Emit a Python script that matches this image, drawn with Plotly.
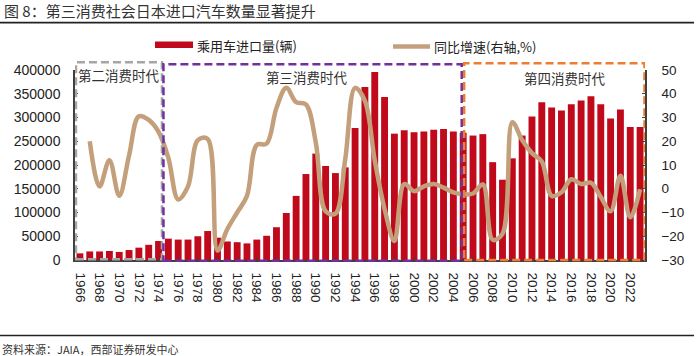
import plotly.graph_objects as go

years = list(range(1966, 2024))
imports = [14000, 18000, 18000, 19000, 17000, 21000, 26000, 32000, 40000,
           45000, 43000, 43000, 50000, 61000, 47000, 39000, 37500, 35000, 43000,
           51000, 69000, 99000, 135000, 181000, 224000, 198000, 183000, 195000, 278000,
           364000, 396000, 343000, 266000, 273000, 269000, 270500, 274000, 276000, 270500,
           268000, 262000, 265000, 206000, 169000, 214000, 262000, 302000, 332000, 321000,
           315000, 328000, 336000, 345000, 328000, 298000, 317000, 280000, 280000]
growth = [None,
          20, 1, 12, -3, 14, 30.5, 29, 24,
          13, -4.5, 1, 20.5, 21, -26, -17, -10, -3, 18.5,
          19, 34, 42.5, 36.5, 35.5, 19.5, -9.5, -10.5, 12.5, 42.5,
          37, 12, -8.5, -22, 2, -1, 1, 2, 0.5, -1.5,
          -2.3, -2, 1.8, -21.5, -19, 28, 20.5, 15, 11.5, -3,
          -1.5, 4, 2, 2.5, -3.5, -9.5, 5.5, -12, -0.2]
tick_years = list(range(1966, 2024, 2))
era_labels = ["第二消费时代", "第三消费时代", "第四消费时代"]
bar_name = "乘用车进口量(辆)"
line_name = "同比增速(右轴,%)"

W, H = 700, 356
L, R, T, B = 75, 55, 70, 96
PW, PH = W - L - R, H - T - B

def px(x):
    return (x - L) / PW

def py(y):
    return (H - B - y) / PH

BAR_C = "#C00A1C"
LINE_C = "#C3A07B"
FONT = "Arial, 'Liberation Sans', 'Noto Sans CJK SC', sans-serif"
CJK = "'Noto Sans CJK SC', sans-serif"

fig = go.Figure()
fig.add_trace(go.Bar(x=years, y=imports, name=bar_name, marker_color=BAR_C,
                     marker_line_width=0, yaxis="y"))
fig.add_trace(go.Scatter(x=years, y=growth, name=line_name, mode="lines",
                         line=dict(color=LINE_C, width=4.5, shape="spline", smoothing=1),
                         yaxis="y2", connectgaps=False))

fig.update_layout(
    width=W, height=H,
    margin=dict(l=L, r=R, t=T, b=B),
    paper_bgcolor="white", plot_bgcolor="white",
    showlegend=False,
    bargap=0.3,
    font=dict(family=FONT, size=14, color="#222"),
    xaxis=dict(range=[1965.5, 2023.5], tickmode="array", tickvals=tick_years,
               ticktext=[str(y) for y in tick_years], tickangle=90,
               tickfont=dict(size=13.5, color="#222"), showgrid=False,
               showline=True, linecolor="#404040", linewidth=1.5,
               ticks="inside", ticklen=3, tickcolor="#404040",
               ticklabelstandoff=8, zeroline=False),
    yaxis=dict(range=[0, 400000], dtick=50000, showgrid=False, zeroline=False,
               showline=True, linecolor="#404040", linewidth=1.5,
               ticks="inside", ticklen=3, tickcolor="#404040",
               tickfont=dict(size=14, color="#222"), ticklabelstandoff=10,
               tickformat="d"),
    yaxis2=dict(range=[-30, 50], dtick=10, overlaying="y", side="right",
                showgrid=False, zeroline=False,
                showline=True, linecolor="#404040", linewidth=1.5,
                ticks="inside", ticklen=3, tickcolor="#404040",
                tickfont=dict(size=13.5, color="#222"), ticklabelstandoff=12),
)

shapes = []
dash = "8px,4px"
shapes.append(dict(type="rect", xref="x", yref="paper", x0=1965.6, x1=1974.35,
                   y0=py(259.3), y1=py(62.3),
                   line=dict(color="#A6A6A6", width=2.5, dash=dash)))
shapes.append(dict(type="rect", xref="x", yref="paper", x0=1974.5, x1=2004.85,
                   y0=py(260.7), y1=py(64.3),
                   line=dict(color="#7030A0", width=2.5, dash=dash)))
shapes.append(dict(type="rect", xref="x", yref="paper", x0=2005.1, x1=2023.45,
                   y0=py(260), y1=py(63.3),
                   line=dict(color="#ED7D31", width=2.5, dash=dash)))
shapes.append(dict(type="line", xref="paper", yref="paper", x0=px(0), x1=px(694),
                   y0=py(22.7), y1=py(22.7), line=dict(color="#222", width=1.8)))
shapes.append(dict(type="line", xref="paper", yref="paper", x0=px(0), x1=px(694),
                   y0=py(335.5), y1=py(335.5), line=dict(color="#222", width=1.3)))
shapes.append(dict(type="rect", xref="paper", yref="paper", x0=px(155), x1=px(193),
                   y0=py(48), y1=py(41.5), fillcolor=BAR_C, line=dict(width=0)))
shapes.append(dict(type="line", xref="paper", yref="paper", x0=px(393), x1=px(430),
                   y0=py(46.5), y1=py(46.5), line=dict(color=LINE_C, width=4.5)))
fig.update_layout(shapes=shapes)

ann = []
ann.append(dict(text="图 8：第三消费社会日本进口汽车数量显著提升", xref="paper", yref="paper",
                x=px(2), y=py(11), xanchor="left", yanchor="middle", showarrow=False,
                font=dict(size=15, color="#333", family=CJK)))
ann.append(dict(text="资料来源：JAIA，西部证券研发中心", xref="paper", yref="paper",
                x=px(0), y=py(349), xanchor="left", yanchor="middle", showarrow=False,
                font=dict(size=11, color="#333", family=CJK)))
ann.append(dict(text=bar_name, xref="paper", yref="paper", x=px(195), y=py(45),
                xanchor="left", yanchor="middle", showarrow=False,
                font=dict(size=13, color="#222", family=CJK)))
ann.append(dict(text=line_name, xref="paper", yref="paper", x=px(432), y=py(46.5),
                xanchor="left", yanchor="middle", showarrow=False,
                font=dict(size=13, color="#222", family=CJK)))
for txt, cx, cy in zip(era_labels, [118.5, 307, 565], [75, 77, 78]):
    ann.append(dict(text=txt, xref="paper", yref="paper", x=px(cx), y=py(cy),
                    xanchor="center", yanchor="middle", showarrow=False,
                    font=dict(size=13.5, color="#333", family=CJK)))
fig.update_layout(annotations=ann)

fig.write_html("out.html", config={"displayModeBar": False},
               post_script="document.body.style.margin='0';document.body.style.padding='0';")
